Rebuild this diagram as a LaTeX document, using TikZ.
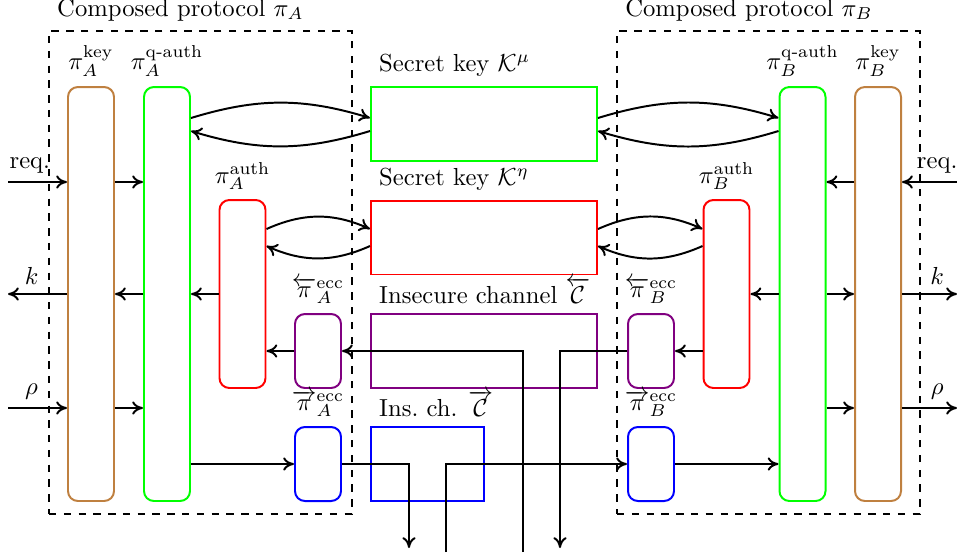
\documentclass[tikz,border=0pt]{standalone}
\usepackage{amsmath}
\usetikzlibrary{arrows.meta}
\begin{document}
\begin{tikzpicture}[x=0.014265cm,y=-0.014265cm, thick, >={To[length=4.4pt,width=5.4pt]},
  pbox/.style={draw, rounded corners=4pt, minimum width=0.6562cm, inner sep=0pt},
  chbox/.style={draw, minimum height=1.0556cm, inner sep=0pt},
  dbox/.style={draw, dashed, minimum width=4.322cm, minimum height=6.890cm, inner sep=0pt},
  cornerlbl/.style={anchor=south west}]
\useasboundingbox (0,0) rectangle (957,552);

% composed protocol frames
\node[dbox, label={[cornerlbl]north west:{Composed protocol $\pi_A$}}] (boxA) at (200.5,272.5) {};
\node[dbox, label={[cornerlbl]north west:{Composed protocol $\pi_B$}}] (boxB) at (768.5,272.5) {};

% protocol boxes A
\node[pbox, draw=brown, minimum height=5.906cm, label={above:$\pi_A^{\mathrm{key}}$}] (keyA) at (91,294) {};
\node[pbox, draw=green, minimum height=5.906cm, label={above:$\pi_A^{\text{q-auth}}$}] (qA) at (167,294) {};
\node[pbox, draw=red, minimum height=2.682cm, label={above:$\pi_A^{\mathrm{auth}}$}] (authA) at (242.5,294) {};
\node[pbox, draw=violet, minimum height=1.0556cm, label={above:$\overleftarrow{\pi}_A^{\mathrm{ecc}}$}] (eccAl) at (318,351) {};
\node[pbox, draw=blue, minimum height=1.0556cm, label={above:$\overrightarrow{\pi}_A^{\mathrm{ecc}}$}] (eccAr) at (318,464) {};

% protocol boxes B
\node[pbox, draw=brown, minimum height=5.906cm, label={above:$\pi_B^{\mathrm{key}}$}] (keyB) at (878,294) {};
\node[pbox, draw=green, minimum height=5.906cm, label={above:$\pi_B^{\text{q-auth}}$}] (qB) at (802.5,294) {};
\node[pbox, draw=red, minimum height=2.682cm, label={above:$\pi_B^{\mathrm{auth}}$}] (authB) at (726.5,294) {};
\node[pbox, draw=violet, minimum height=1.0556cm, label={above:$\overleftarrow{\pi}_B^{\mathrm{ecc}}$}] (eccBl) at (651,351) {};
\node[pbox, draw=blue, minimum height=1.0556cm, label={above:$\overrightarrow{\pi}_B^{\mathrm{ecc}}$}] (eccBr) at (651,464) {};

% resources
\node[chbox, draw=green, minimum width=3.224cm, label={[cornerlbl]north west:{Secret key $\mathcal{K}^\mu$}}] (Kmu) at (484,124) {};
\node[chbox, draw=red, minimum width=3.224cm, label={[cornerlbl]north west:{Secret key $\mathcal{K}^\eta$}}] (Keta) at (484,237.5) {};
\node[chbox, draw=violet, minimum width=3.224cm, label={[cornerlbl]north west:{Insecure channel $\overleftarrow{\mathcal{C}}$}}] (Cl) at (484,351) {};
\node[chbox, draw=blue, minimum width=1.612cm, label={[cornerlbl]north west:{Ins.\ ch. $\overrightarrow{\mathcal{C}}$}}] (Cr) at (427.5,464) {};

% helper coordinates
\coordinate (reqL) at (8,182);
\coordinate (kL) at (8,294);
\coordinate (rhoL) at (8,408);
\coordinate (reqR) at (957,182);
\coordinate (kR) at (957,294);
\coordinate (rhoR) at (957,408);
\coordinate (c118) at (0,118);
\coordinate (c131) at (0,131);
\coordinate (c229) at (0,229);
\coordinate (c246) at (0,246);
\coordinate (dA) at (409,548);
\coordinate (uB) at (446,552);
\coordinate (uA) at (523,552);
\coordinate (dB) at (560,548);

% curved exchanges with the secret keys
\draw[->] (qA.east |- c118) to[bend left=17] (Kmu.west |- c118);
\draw[->] (Kmu.west |- c131) to[bend left=17] (qA.east |- c131);
\draw[->] (Kmu.east |- c118) to[bend left=17] (qB.west |- c118);
\draw[->] (qB.west |- c131) to[bend left=17] (Kmu.east |- c131);
\draw[->] (authA.east |- c229) to[bend left=24] (Keta.west |- c229);
\draw[->] (Keta.west |- c246) to[bend left=24] (authA.east |- c246);
\draw[->] (Keta.east |- c229) to[bend left=24] (authB.west |- c229);
\draw[->] (authB.west |- c246) to[bend left=24] (Keta.east |- c246);

% left side
\draw[->] (reqL) -- node[above, pos=0.37]{req.} (keyA.west |- reqL);
\draw[->] (keyA.east |- reqL) -- (qA.west |- reqL);
\draw[->] (keyA.west) -- node[above, pos=0.6]{$k$} (kL);
\draw[->] (qA.west) -- (keyA.east);
\draw[->] (authA.west) -- (qA.east);
\draw[->] (rhoL) -- node[above, pos=0.4]{$\rho$} (keyA.west |- rhoL);
\draw[->] (keyA.east |- rhoL) -- (qA.west |- rhoL);
\draw[->] (qA.east |- eccAr) -- (eccAr.west);
\draw[->] (eccAr.east) -| (dA);
\draw[->] (uB) |- (eccBr.west);
\draw[->] (uA) |- (eccAl.east);
\draw[->] (eccAl.west) -- (authA.east |- eccAl);

% right side
\draw[->] (eccBl.west) -| (dB);
\draw[->] (authB.west |- eccBl) -- (eccBl.east);
\draw[->] (qB.west) -- (authB.east);
\draw[->] (qB.east) -- (keyB.west);
\draw[->] (keyB.east) -- node[above, pos=0.64]{$k$} (kR);
\draw[->] (reqR) -- node[above, pos=0.36]{req.} (keyB.east |- reqR);
\draw[->] (keyB.west |- reqR) -- (qB.east |- reqR);
\draw[->] (qB.east |- rhoR) -- (keyB.west |- rhoR);
\draw[->] (keyB.east |- rhoR) -- node[above, pos=0.64]{$\rho$} (rhoR);
\draw[->] (eccBr.east) -- (qB.west |- eccBr);
\end{tikzpicture}
\end{document}
